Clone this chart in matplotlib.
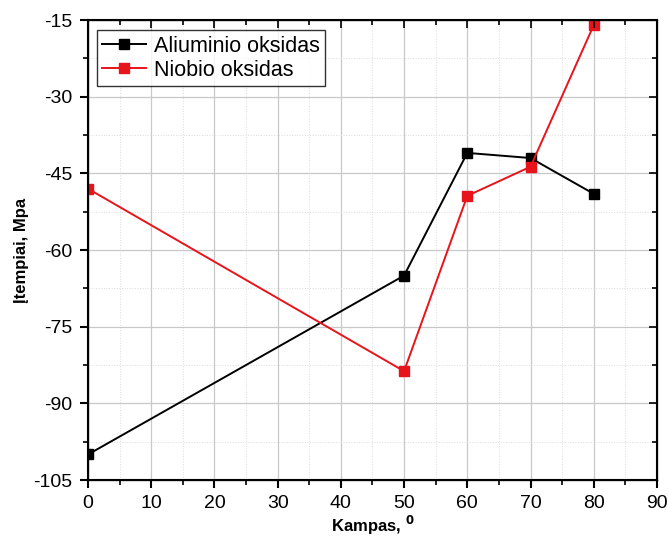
import numpy as np
import matplotlib
matplotlib.use("Agg")
import matplotlib.pyplot as plt
from matplotlib.ticker import MultipleLocator

plt.rcParams['font.family'] = ['Liberation Sans', 'DejaVu Sans']
plt.rcParams['axes.unicode_minus'] = False

# angle values and stresses
kampas = [0, 50, 60, 70, 80]
aliuminio = [-100, -65, -41, -42, -49]
niobio = [-48, -83.7, -49.4, -43.7, -16]

fig = plt.figure(figsize=(6.69, 5.48), dpi=100)
ax = fig.add_axes([0.1315, 0.124, 0.8505, 0.8395])

ax.plot(kampas, aliuminio, color='black', marker='s', markersize=6.5, lw=1.4,
        label='Aliuminio oksidas', zorder=3)
ax.plot(kampas, niobio, color='#e8141b', marker='s', markersize=6.5, lw=1.4,
        label='Niobio oksidas', zorder=3)

ax.set_xlim(0, 90)
ax.set_ylim(-105, -15)
ax.xaxis.set_major_locator(MultipleLocator(10))
ax.xaxis.set_minor_locator(MultipleLocator(5))
ax.yaxis.set_major_locator(MultipleLocator(15))
ax.yaxis.set_minor_locator(MultipleLocator(7.5))

ax.grid(which='major', color='#c8c8c8', lw=0.9)
ax.grid(which='minor', color='#dcdcdc', lw=0.7, ls=':')
ax.set_axisbelow(True)

for s in ax.spines.values():
    s.set_linewidth(1.5)
ax.tick_params(which='major', direction='out', length=6, width=1.5,
               labelsize=14, pad=5, top=False, right=False)
ax.tick_params(which='minor', direction='out', length=3.5, width=1.2,
               top=False, right=False)

# inward ticks on the top and right spines
ax2 = ax.twinx()
ax2.set_ylim(ax.get_ylim())
ax2.yaxis.set_major_locator(MultipleLocator(15))
ax2.yaxis.set_minor_locator(MultipleLocator(7.5))
ax2.tick_params(which='both', direction='in', labelright=False, width=1.2)
ax2.tick_params(which='major', length=6)
ax2.tick_params(which='minor', length=3.5)
ax3 = ax.twiny()
ax3.set_xlim(ax.get_xlim())
ax3.xaxis.set_major_locator(MultipleLocator(10))
ax3.xaxis.set_minor_locator(MultipleLocator(5))
ax3.tick_params(which='both', direction='in', labeltop=False, width=1.2)
ax3.tick_params(which='major', length=6)
ax3.tick_params(which='minor', length=3.5)

ax.set_xlabel('Kampas, $^{\\mathbf{0}}$', fontsize=12, fontweight='bold')
ax.set_ylabel('Įtempiai, Mpa', fontsize=12, fontweight='bold')
ax.xaxis.set_label_coords(0.5, -0.074)
ax.yaxis.set_label_coords(-0.104, 0.5)

leg = ax.legend(loc='upper left', fontsize=15.5, frameon=True, fancybox=False,
                borderpad=0.25, handlelength=2.0, handletextpad=0.4,
                labelspacing=0.15, borderaxespad=0,
                bbox_to_anchor=(0.016, 0.978))
leg.get_frame().set_edgecolor('black')
leg.get_frame().set_linewidth(1.0)

fig.savefig('out.png', dpi=100)
